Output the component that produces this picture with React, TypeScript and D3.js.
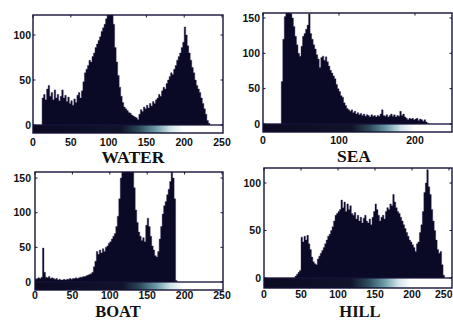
import React from "react";
import * as d3 from "d3";

// Histogram counts, bins of width 2 over grey levels 0..255
const waterCounts = [
  0,0,0,0,0,0,30,34,28,40,44,32,36,28,39,30,34,27,32,39,30,33,26,31,24,27,22,29,25,33,36,30,
  38,48,58,62,66,72,70,76,80,86,90,94,98,104,108,112,118,130,126,130,128,112,86,70,55,42,32,25,20,18,16,14,
  13,11,10,9,8,6,12,17,15,20,18,22,19,24,21,26,24,28,30,34,32,38,42,40,46,50,54,58,56,62,66,72,
  76,80,86,92,109,100,88,80,72,64,58,50,44,40,36,30,24,18,12,5,2,0,0,0,0,0,0,0,0,0,0,0
];
const seaCounts = [
  0,0,0,0,0,0,0,0,0,0,0,0,60,120,152,160,158,160,156,150,138,124,112,100,96,110,124,128,134,140,156,128,
  120,112,106,98,92,80,94,96,90,95,88,82,76,72,68,64,56,50,46,40,38,30,26,22,20,18,20,16,18,14,16,13,
  15,12,14,11,13,12,10,13,11,12,10,12,11,14,20,12,11,13,10,12,14,11,13,10,12,11,18,12,14,10,8,6,
  8,7,8,6,7,8,5,7,6,4,6,3,1,0,0,0,0,0,0,0,0,0,0,0,0,0,0,0,0,0,0,0
];
const boatCounts = [
  4,5,6,5,7,49,14,7,6,8,5,6,5,4,5,3,4,3,3,4,3,4,4,5,4,5,5,6,5,6,7,7,
  8,8,9,10,11,12,14,22,30,44,40,46,42,48,44,50,52,56,58,62,66,70,80,95,120,150,175,190,200,195,185,180,
  170,160,136,104,86,72,66,60,64,58,82,92,80,66,52,46,38,36,44,62,80,98,110,116,126,134,145,170,150,120,2,0,
  0,0,0,0,0,0,0,0,0,0,0,0,0,0,0,0,0,0,0,0,0,0,0,0,0,0,0,0,0,0,0,0
];
const hillCounts = [
  0,0,0,0,0,0,0,0,0,0,0,0,0,0,0,0,0,0,0,0,0,2,4,6,8,43,38,44,40,45,36,30,
  22,17,15,14,20,23,26,29,32,36,40,44,46,50,54,60,66,68,70,72,82,74,80,70,78,72,76,68,66,69,62,66,
  60,64,58,63,66,60,58,62,56,64,70,78,72,66,60,64,66,62,70,74,72,78,76,88,80,74,70,68,64,60,56,52,
  48,44,40,38,35,32,28,36,38,48,56,70,90,100,114,96,88,72,60,50,40,30,26,28,14,3,0,0,0,0,0,0
];
const panelTitles = ["WATER", "SEA", "BOAT", "HILL"];
const yTicksWater = [0, 50, 100];
const yTicksSea = [0, 50, 100, 150];
const yTicksBoat = [0, 50, 100, 150];
const yTicksHill = [0, 50, 100];
const xTicksFull = [0, 50, 100, 150, 200, 250];
const xTicksSea = [0, 100, 200];
const BIN = 2;

type Layout = {
  x0: number; x250: number; boxR: number; top: number; base: number; bottom: number;
  pxPerUnit: number; titleX: number; titleY: number; titleSize: number; xLabelY: number; yLabelX: number;
};

const layouts: Layout[] = [
  { x0: 33, x250: 222, boxR: 223, top: 15, base: 125, bottom: 133, pxPerUnit: 0.9, titleX: 133, titleY: 163, titleSize: 17.5, xLabelY: 145.5, yLabelX: 31 },
  { x0: 263, x250: 453, boxR: 452, top: 13, base: 124, bottom: 132, pxPerUnit: 0.707, titleX: 354, titleY: 162, titleSize: 17.5, xLabelY: 143.5, yLabelX: 260 },
  { x0: 35, x250: 222, boxR: 223, top: 172, base: 282, bottom: 290, pxPerUnit: 0.693, titleX: 118, titleY: 317, titleSize: 16.5, xLabelY: 298.5, yLabelX: 31 },
  { x0: 264, x250: 449, boxR: 452, top: 168, base: 278, bottom: 288, pxPerUnit: 0.95, titleX: 360, titleY: 317, titleSize: 16.5, xLabelY: 298, yLabelX: 261 },
];

const seriesList = [waterCounts, seaCounts, boatCounts, hillCounts];
const yTickList = [yTicksWater, yTicksSea, yTicksBoat, yTicksHill];
const xTickList = [xTicksFull, xTicksSea, xTicksFull, xTicksFull];

const BAR = "#0b0a26";
const FRAME = "#141238";

function Panel({ idx }: { idx: number }) {
  const L = layouts[idx];
  const data = seriesList[idx];
  const x = d3.scaleLinear().domain([0, 250]).range([L.x0, L.x250]);
  const yMax = (L.base - L.top) / L.pxPerUnit;
  const y = d3.scaleLinear().domain([0, yMax]).range([L.base, L.top]);
  const clipId = `clip${idx}`;
  const gradId = `grad${idx}`;
  const pts: [number, number][] = data.map((v, i) => [i * BIN, v]);
  pts.push([data.length * BIN, 0]);
  const area = d3.area<[number, number]>()
    .x((d) => x(d[0]))
    .y0(L.base)
    .y1((d) => y(d[1]))
    .curve(d3.curveStepAfter);
  const gx0 = x(0), gx1 = x(255);
  const lastTick = xTickList[idx][xTickList[idx].length - 1];
  return (
    <g>
      <defs>
        <clipPath id={clipId}>
          <rect x={L.x0} y={L.top} width={L.boxR - L.x0} height={L.bottom - L.top} />
        </clipPath>
        <linearGradient id={gradId} gradientUnits="userSpaceOnUse" x1={gx0} x2={gx1} y1={0} y2={0}>
          <stop offset="0" stopColor="#0b0a22" />
          <stop offset="0.46" stopColor="#10142a" />
          <stop offset="0.55" stopColor="#2c4a5a" />
          <stop offset="0.64" stopColor="#6f9eaa" />
          <stop offset="0.71" stopColor="#cfe3e6" />
          <stop offset="0.78" stopColor="#ffffff" />
          <stop offset="1" stopColor="#ffffff" />
        </linearGradient>
      </defs>
      <g clipPath={`url(#${clipId})`}>
        <rect x={L.x0} y={L.base} width={L.boxR - L.x0} height={L.bottom - L.base} fill={`url(#${gradId})`} />
        <path d={area(pts) || ""} fill={BAR} stroke="#2a1f4e" strokeWidth={0.4} />
        <line x1={L.x0} x2={L.boxR} y1={L.base} y2={L.base} stroke={FRAME} strokeWidth={1} />
      </g>
      <rect x={L.x0} y={L.top} width={L.boxR - L.x0} height={L.bottom - L.top} fill="none" stroke={FRAME} strokeWidth={1.4} />
      {xTickList[idx].map((t) => {
        const overflow = x(t) + 10 > 453;
        return (
          <g key={`xt${t}`}>
            <line x1={x(t)} x2={x(t)} y1={L.top} y2={L.top + 2.5} stroke={FRAME} strokeWidth={1} />
            <text x={overflow ? 452.5 : x(t)} y={L.xLabelY} textAnchor={overflow && t === lastTick ? "end" : "middle"} fontFamily="Liberation Sans, Arial, sans-serif" fontWeight="bold" fontSize={10.5} fill="#111">{t}</text>
          </g>
        );
      })}
      {yTickList[idx].map((t) => (
        <g key={`yt${t}`}>
          <line x1={L.x0} x2={L.x0 + 2.5} y1={y(t)} y2={y(t)} stroke={FRAME} strokeWidth={1} />
          <line x1={L.boxR} x2={L.boxR - 2.5} y1={y(t)} y2={y(t)} stroke={FRAME} strokeWidth={1} />
          <text x={L.yLabelX} y={y(t) + 3.6} textAnchor="end" fontFamily="Liberation Sans, Arial, sans-serif" fontWeight="bold" fontSize={10.5} fill="#111">{t}</text>
        </g>
      ))}
      <text x={L.titleX} y={L.titleY} textAnchor="middle" fontFamily="Liberation Serif, Times New Roman, serif" fontWeight="bold" fontSize={L.titleSize} fill="#111">{panelTitles[idx]}</text>
    </g>
  );
}

export default function App() {
  return (
    <svg width={453} height={321} style={{ position: "absolute", left: 0, top: 0, background: "#fff" }}>
      <rect x={0} y={0} width={453} height={321} fill="#fff" />
      {[0, 1, 2, 3].map((i) => <Panel key={i} idx={i} />)}
    </svg>
  );
}
